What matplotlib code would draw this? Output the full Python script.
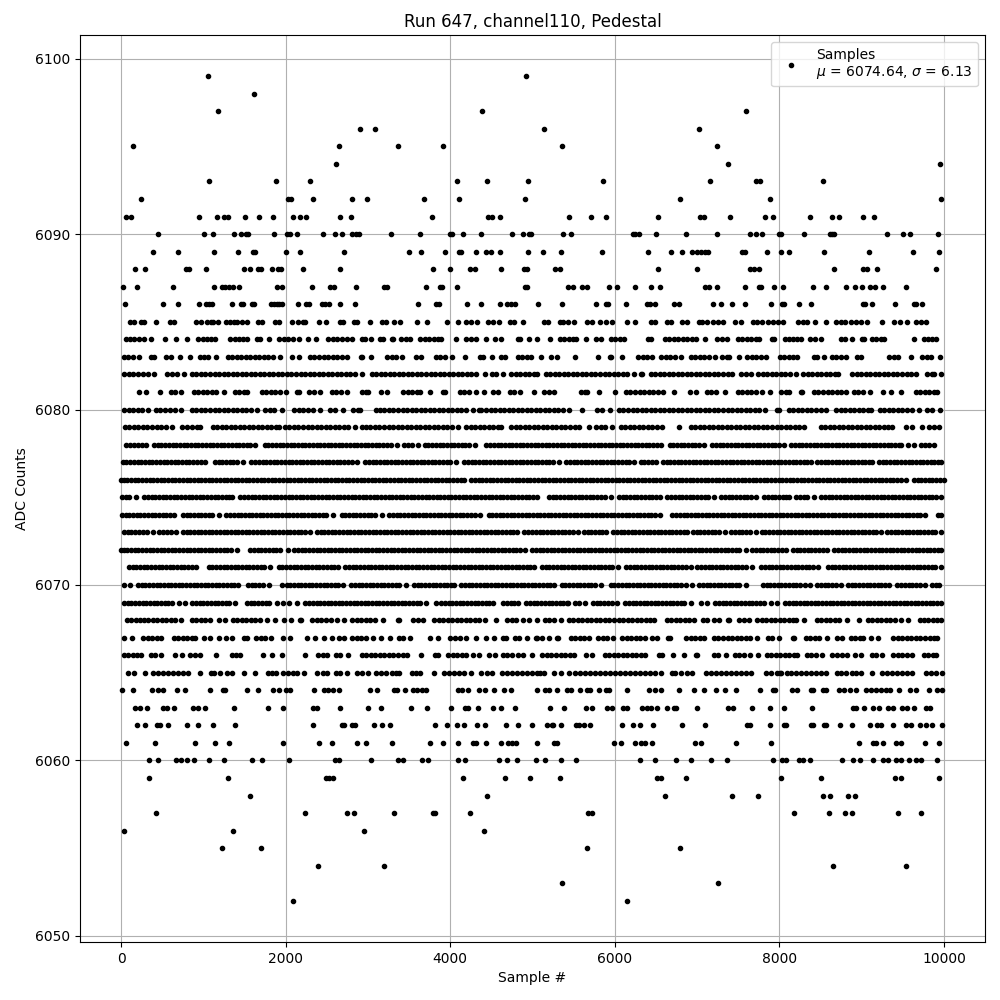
#!/usr/bin/env python3
import matplotlib
matplotlib.use('Agg')
import matplotlib.pyplot as plt
import numpy as np

# sample numbers, one list per ADC level
s6099 = [1054, 4921]
s6098 = [1612]
s6097 = [1176, 4387, 7600]
s6096 = [2897, 3090, 5145, 7029]
s6095 = [145, 2642, 3369, 3915, 5352, 7247]
s6094 = [2606, 7381, 9957]
s6093 = [1067, 1879, 2291, 4084, 4448, 4945, 5862, 7162, 7721, 7762, 8535]
s6092 = [242, 2024, 2064, 2327, 2800, 2994, 3684, 4109, 4909, 6798, 7891, 9969]
s6091 = [61, 121, 945, 1164, 1248, 1297, 1503, 1673, 1842, 2085, 2169, 2246, 2666, 2788, 3781, 4460, 4513, 4606,
         5449, 5716, 5887, 6530, 7033, 7081, 7405, 7831, 7928, 8377, 8645, 8730, 9021, 9155]
s6090 = [448, 1006, 1115, 1370, 1454, 1519, 1543, 1854, 2012, 2048, 2133, 2448, 2594, 2679, 2800, 2860, 2885, 3285,
         3636, 4000, 4024, 4157, 4375, 4751, 4884, 4957, 4977, 5376, 5473, 6227, 6251, 6292, 6506, 6859, 7247, 7648,
         7713, 7794, 8001, 8017, 8304, 8612, 8641, 8665, 9313, 9507, 9592, 9933]
s6089 = [388, 691, 1127, 1418, 1600, 1624, 2000, 2169, 2703, 3503, 3648, 3939, 4109, 4133, 4315, 4436, 4497, 4606,
         4945, 5133, 5340, 5850, 6409, 6688, 6822, 6932, 7004, 7053, 7101, 7134, 7551, 7580, 7855, 8025, 8122, 8547,
         9094, 9629, 9945]
s6088 = [170, 291, 788, 820, 1030, 1491, 1572, 1660, 1701, 1830, 1903, 1943, 2206, 2654, 3794, 4000, 4242, 4295,
         4618, 4897, 4937, 5279, 5328, 6530, 7004, 7640, 7689, 7750, 8669, 9021, 9070, 9191, 9908]
s6087 = [24, 194, 630, 1127, 1224, 1265, 1305, 1357, 1430, 1891, 1951, 2315, 2533, 2586, 2860, 3200, 3236, 3709,
         3878, 3903, 4084, 4909, 4937, 5437, 5486, 5607, 5656, 5935, 6032, 6251, 6445, 6543, 7101, 7150, 7247, 7588,
         7758, 7782, 7940, 8049, 8414, 8572, 8815, 8924, 9009, 9106, 9167, 9264, 9544]
s6086 = [48, 509, 691, 945, 1030, 1067, 1103, 1345, 1454, 1479, 1588, 1612, 1818, 1854, 1891, 1923, 1951, 2145,
         2242, 2279, 2436, 2472, 2521, 2654, 2848, 3612, 3830, 3866, 4206, 4375, 4606, 4690, 4739, 4787, 5066, 5364,
         5777, 5887, 5919, 6130, 6385, 6425, 6494, 6725, 6778, 7199, 7296, 7430, 7588, 7904, 8037, 8057, 8244, 8389,
         9021, 9046, 9131, 9410, 9637, 9661, 9738]
s6085 = [109, 158, 242, 279, 424, 594, 642, 909, 970, 1042, 1091, 1115, 1176, 1273, 1321, 1370, 1406, 1467, 1527,
         1660, 1709, 1866, 1915, 2073, 2145, 2206, 2238, 2400, 2485, 2666, 2691, 2836, 2872, 3026, 3175, 3216, 3321,
         3394, 3600, 3721, 3955, 4097, 4194, 4254, 4327, 4460, 4521, 4593, 4727, 4775, 4884, 5141, 5190, 5328, 5376,
         5433, 5498, 5660, 5717, 5814, 5887, 5960, 6142, 6251, 6445, 6494, 6640, 6688, 6822, 6883, 7017, 7065, 7126,
         7191, 7260, 7316, 7466, 7539, 7685, 7733, 7794, 7863, 7924, 7985, 8049, 8232, 8292, 8341, 8438, 8572, 8693,
         8754, 8803, 8876, 8936, 8997, 9070, 9252, 9398, 9471, 9556, 9665, 9726, 9787]
s6084 = [54, 105, 160, 215, 277, 364, 533, 665, 802, 931, 990, 1040, 1095, 1146, 1327, 1380, 1430, 1480, 1529, 1650,
         1691, 1802, 1921, 1975, 2030, 2085, 2156, 2276, 2370, 2511, 2570, 2625, 2680, 2740, 2802, 2923, 2964, 3034,
         3145, 3186, 3286, 3307, 3407, 3460, 3509, 3630, 3690, 3745, 3800, 3850, 3893, 4072, 4195, 4255, 4317, 4438,
         4539, 4620, 4821, 4842, 4953, 5059, 5210, 5333, 5385, 5440, 5490, 5524, 5644, 5775, 5828, 5949, 6005, 6060,
         6112, 6403, 6436, 6605, 6660, 6715, 6770, 6825, 6880, 6935, 6982, 7093, 7245, 7305, 7367, 7496, 7550, 7605,
         7660, 7710, 7752, 7913, 7934, 8063, 8115, 8170, 8220, 8258, 8371, 8430, 8501, 8743, 8800, 8886, 9007, 9028,
         9128, 9180, 9230, 9270, 9635, 9756, 9810, 9860, 9898]
s6083 = [34, 85, 140, 216, 357, 400, 540, 600, 721, 840, 955, 1010, 1053, 1157, 1295, 1350, 1405, 1460, 1515, 1570,
         1625, 1680, 1735, 1790, 1845, 1933, 2074, 2156, 2296, 2350, 2405, 2460, 2515, 2570, 2625, 2680, 2741, 2915,
         2923, 3034, 3226, 3290, 3345, 3408, 3589, 3650, 3832, 3880, 3933, 4024, 4185, 4365, 4398, 4509, 4619, 4660,
         4821, 4875, 4930, 4984, 5101, 5228, 5302, 5522, 5798, 5937, 5950, 6093, 6281, 6340, 6395, 6456, 6565, 6620,
         6675, 6730, 6808, 6921, 6975, 7030, 7085, 7140, 7213, 7306, 7360, 7387, 7507, 7609, 7665, 7720, 7775, 7833,
         8006, 8060, 8115, 8170, 8218, 8419, 8461, 8539, 8634, 8690, 8745, 8805, 8938, 8987, 9330, 9390, 9445, 9604,
         9736, 9790, 9838, 9957]
s6082 = [34, 90, 150, 210, 270, 330, 398, 559, 615, 675, 762, 862, 915, 970, 1025, 1080, 1135, 1190, 1245, 1300, 1355,
         1410, 1465, 1520, 1575, 1630, 1685, 1740, 1795, 1850, 1905, 1960, 2015, 2070, 2125, 2180, 2235, 2290, 2345,
         2400, 2455, 2510, 2565, 2620, 2675, 2730, 2785, 2840, 2923, 3044, 3100, 3155, 3210, 3265, 3320, 3375, 3430,
         3485, 3540, 3595, 3650, 3705, 3760, 3815, 3870, 3925, 3980, 4035, 4090, 4145, 4200, 4255, 4317, 4420, 4506,
         4560, 4640, 4741, 4795, 4850, 4905, 4960, 5015, 5059, 5159, 5215, 5270, 5325, 5380, 5435, 5490, 5545, 5600,
         5655, 5710, 5765, 5820, 5875, 5930, 5985, 6040, 6095, 6150, 6233, 6314, 6335, 6435, 6490, 6545, 6600, 6655,
         6710, 6765, 6820, 6875, 6930, 6985, 7040, 7095, 7150, 7205, 7260, 7315, 7370, 7428, 7537, 7595, 7651, 7739,
         7795, 7850, 7905, 7960, 8015, 8070, 8125, 8198, 8290, 8345, 8400, 8455, 8510, 8565, 8620, 8675, 8716, 8885,
         8940, 8995, 9050, 9105, 9160, 9215, 9270, 9325, 9380, 9435, 9490, 9545, 9600, 9656, 9797, 9850, 9878, 9969]
s6081 = [218, 307, 469, 600, 650, 730, 882, 935, 990, 1045, 1100, 1155, 1255, 1379, 1430, 1490, 1529, 1711, 1765, 1820,
         1875, 1930, 2006, 2135, 2156, 2284, 2340, 2418, 2559, 2615, 2670, 2750, 2923, 2975, 3004, 3155, 3236, 3428,
         3485, 3540, 3595, 3638, 3753, 3912, 3933, 4114, 4170, 4225, 4317, 4412, 4518, 4580, 4720, 4780, 4850, 5014,
         5139, 5200, 5261, 5584, 5640, 5666, 5802, 6000, 6131, 6190, 6245, 6300, 6355, 6410, 6470, 6525, 6586, 6717,
         6913, 6982, 7115, 7165, 7235, 7336, 7496, 7550, 7605, 7660, 7715, 7792, 7891, 8023, 8080, 8116, 8265, 8278,
         8419, 8475, 8530, 8585, 8640, 8695, 8750, 8805, 8906, 8960, 9015, 9097, 9264, 9361, 9475, 9655, 9710, 9765,
         9820, 9875, 9919]
s6080 = [34, 90, 140, 200, 257, 327, 418, 475, 530, 590, 649, 731, 862, 915, 970, 1025, 1080, 1135, 1190, 1245, 1300,
         1355, 1410, 1465, 1520, 1575, 1651, 1751, 1805, 1860, 1954, 2103, 2160, 2215, 2270, 2337, 2416, 2539, 2595,
         2701, 2822, 2880, 2903, 3092, 3145, 3200, 3255, 3310, 3365, 3420, 3475, 3530, 3585, 3640, 3695, 3750, 3805,
         3860, 3915, 3970, 4025, 4080, 4135, 4190, 4277, 4347, 4377, 4435, 4490, 4545, 4600, 4655, 4710, 4765, 4820,
         4875, 4930, 4985, 5040, 5095, 5150, 5205, 5260, 5315, 5370, 5443, 5603, 5787, 5850, 5938, 6050, 6105, 6160,
         6215, 6270, 6325, 6380, 6435, 6490, 6545, 6600, 6655, 6710, 6765, 6820, 6875, 6930, 6985, 7040, 7095, 7150,
         7205, 7260, 7315, 7370, 7425, 7480, 7535, 7590, 7645, 7700, 7752, 7823, 7966, 7995, 8116, 8170, 8225, 8280,
         8335, 8390, 8445, 8500, 8562, 8691, 8745, 8800, 8855, 8910, 8965, 9020, 9075, 9109, 9221, 9275, 9330, 9385,
         9440, 9495, 9550, 9615, 9694, 9797, 9850, 9949]
s6079 = [46, 100, 155, 210, 265, 320, 375, 430, 485, 540, 620, 741, 800, 860, 920, 964, 1113, 1165, 1220, 1275, 1330,
         1385, 1440, 1495, 1550, 1605, 1660, 1715, 1770, 1825, 1880, 1913, 1993, 2045, 2100, 2155, 2210, 2265, 2320,
         2375, 2430, 2485, 2540, 2595, 2650, 2705, 2760, 2842, 2923, 2975, 3030, 3085, 3140, 3195, 3250, 3305, 3360,
         3415, 3470, 3525, 3580, 3635, 3690, 3745, 3800, 3855, 3910, 3965, 4020, 4095, 4195, 4250, 4305, 4360, 4415,
         4470, 4525, 4580, 4620, 4741, 4795, 4850, 4905, 4960, 5015, 5070, 5125, 5180, 5235, 5290, 5345, 5400, 5455,
         5510, 5565, 5684, 5775, 5830, 5885, 5962, 6070, 6125, 6180, 6235, 6290, 6345, 6400, 6455, 6510, 6578, 6779,
         6921, 6975, 7030, 7085, 7140, 7195, 7250, 7305, 7360, 7415, 7470, 7525, 7580, 7635, 7690, 7745, 7800, 7855,
         7910, 7965, 8020, 8075, 8130, 8185, 8240, 8299, 8500, 8555, 8610, 8665, 8720, 8775, 8830, 8885, 8940, 8995,
         9050, 9105, 9160, 9215, 9270, 9325, 9372, 9533, 9615, 9738, 9817, 9875, 9939]
s6078 = [62, 110, 155, 205, 250, 297, 398, 445, 490, 535, 580, 625, 670, 715, 760, 805, 850, 895, 940, 985, 1030, 1075,
         1120, 1165, 1210, 1255, 1300, 1345, 1390, 1435, 1480, 1525, 1570, 1630, 1743, 1790, 1835, 1880, 1925, 1970,
         2015, 2060, 2105, 2150, 2195, 2240, 2285, 2330, 2375, 2420, 2465, 2510, 2555, 2600, 2645, 2690, 2735, 2780,
         2825, 2870, 2915, 2960, 3005, 3050, 3095, 3140, 3185, 3230, 3275, 3347, 3440, 3490, 3540, 3610, 3690, 3735,
         3780, 3825, 3870, 3915, 3960, 4005, 4050, 4095, 4140, 4185, 4230, 4297, 4438, 4485, 4530, 4575, 4620, 4665,
         4710, 4755, 4800, 4845, 4890, 4935, 4980, 5025, 5070, 5115, 5160, 5205, 5250, 5295, 5340, 5385, 5430, 5475,
         5520, 5565, 5610, 5655, 5700, 5745, 5790, 5835, 5880, 5925, 5970, 6015, 6060, 6105, 6150, 6195, 6240, 6285,
         6330, 6375, 6420, 6465, 6510, 6557, 6666, 6710, 6755, 6800, 6845, 6890, 6935, 6980, 7025, 7084, 7184, 7230,
         7275, 7320, 7365, 7410, 7455, 7500, 7545, 7590, 7635, 7680, 7725, 7770, 7815, 7860, 7905, 7950, 7995, 8056,
         8145, 8190, 8235, 8280, 8325, 8370, 8415, 8460, 8505, 8550, 8595, 8640, 8685, 8730, 8775, 8820, 8865, 8910,
         8955, 9000, 9045, 9090, 9135, 9180, 9225, 9270, 9315, 9360, 9405, 9450, 9473, 9562, 9635, 9724, 9770, 9820,
         9878]
s6077 = [22, 65, 110, 155, 200, 245, 290, 335, 380, 425, 470, 515, 560, 605, 650, 695, 740, 785, 830, 875, 920, 965,
         1024, 1137, 1185, 1230, 1275, 1320, 1365, 1410, 1477, 1581, 1630, 1675, 1720, 1765, 1810, 1855, 1900, 1945,
         1990, 2035, 2080, 2125, 2170, 2215, 2260, 2305, 2350, 2395, 2440, 2485, 2530, 2575, 2620, 2665, 2710, 2755,
         2800, 2863, 2963, 3010, 3055, 3100, 3145, 3190, 3235, 3280, 3325, 3370, 3415, 3460, 3505, 3550, 3595, 3640,
         3685, 3730, 3775, 3820, 3865, 3910, 3955, 4000, 4075, 4167, 4215, 4260, 4305, 4350, 4395, 4440, 4485, 4530,
         4575, 4620, 4665, 4710, 4755, 4800, 4845, 4890, 4935, 4980, 5025, 5070, 5115, 5160, 5205, 5250, 5322, 5410,
         5455, 5500, 5545, 5590, 5635, 5680, 5725, 5770, 5815, 5860, 5905, 5950, 5995, 6040, 6085, 6130, 6175, 6233,
         6314, 6360, 6405, 6450, 6497, 6585, 6630, 6675, 6720, 6765, 6810, 6855, 6900, 6945, 6990, 7035, 7080, 7125,
         7170, 7215, 7260, 7305, 7350, 7395, 7440, 7485, 7530, 7575, 7620, 7665, 7710, 7755, 7800, 7845, 7890, 7935,
         7980, 8025, 8070, 8115, 8160, 8205, 8250, 8295, 8340, 8380, 8460, 8505, 8550, 8595, 8640, 8685, 8730, 8775,
         8820, 8865, 8910, 8955, 9000, 9045, 9090, 9121, 9209, 9255, 9300, 9345, 9390, 9435, 9480, 9525, 9570, 9615,
         9660, 9705, 9750, 9795, 9840, 9885, 9930, 9970]
s6076 = [0, 30, 75, 120, 165, 210, 255, 300, 345, 390, 435, 480, 525, 570, 615, 660, 705, 750, 795, 840, 885, 930, 975,
         1020, 1065, 1110, 1155, 1200, 1245, 1290, 1335, 1380, 1425, 1470, 1515, 1560, 1605, 1650, 1695, 1740, 1785,
         1830, 1875, 1920, 1965, 2010, 2055, 2100, 2145, 2190, 2235, 2280, 2325, 2370, 2415, 2460, 2505, 2550, 2595,
         2640, 2685, 2730, 2775, 2820, 2865, 2910, 2955, 3000, 3045, 3090, 3135, 3180, 3225, 3270, 3315, 3360, 3405,
         3450, 3495, 3540, 3585, 3630, 3675, 3720, 3765, 3810, 3855, 3900, 3945, 3990, 4035, 4080, 4125, 4167, 4256,
         4300, 4345, 4390, 4435, 4480, 4525, 4570, 4615, 4660, 4705, 4750, 4795, 4840, 4885, 4930, 4975, 5020, 5065,
         5110, 5155, 5200, 5245, 5290, 5335, 5380, 5425, 5470, 5515, 5560, 5605, 5650, 5695, 5740, 5785, 5830, 5875,
         5920, 5965, 6010, 6055, 6100, 6145, 6190, 6235, 6280, 6325, 6370, 6415, 6460, 6505, 6550, 6595, 6640, 6685,
         6730, 6775, 6820, 6865, 6910, 6955, 7000, 7045, 7090, 7135, 7180, 7225, 7270, 7315, 7360, 7405, 7450, 7495,
         7540, 7585, 7630, 7675, 7720, 7765, 7810, 7855, 7900, 7945, 7990, 8035, 8080, 8125, 8170, 8215, 8260, 8305,
         8350, 8395, 8440, 8485, 8530, 8575, 8620, 8665, 8710, 8755, 8800, 8845, 8890, 8935, 8980, 9025, 9070, 9115,
         9160, 9205, 9250, 9295, 9340, 9385, 9430, 9475, 9534, 9635, 9680, 9725, 9770, 9815, 9860, 9905, 9950, 9999]
s6075 = [8, 55, 100, 176, 276, 325, 370, 415, 460, 505, 550, 595, 640, 685, 730, 775, 820, 865, 910, 955, 1000, 1045,
         1090, 1135, 1180, 1225, 1270, 1315, 1348, 1448, 1495, 1540, 1585, 1630, 1675, 1720, 1765, 1810, 1855, 1900,
         1945, 1990, 2035, 2080, 2125, 2170, 2215, 2260, 2305, 2350, 2395, 2440, 2485, 2530, 2575, 2620, 2665, 2710,
         2755, 2800, 2845, 2890, 2935, 2980, 3025, 3070, 3115, 3160, 3205, 3250, 3295, 3340, 3385, 3430, 3475, 3520,
         3565, 3610, 3655, 3700, 3745, 3790, 3835, 3880, 3925, 3970, 4015, 4060, 4105, 4150, 4195, 4240, 4285, 4330,
         4375, 4420, 4465, 4510, 4555, 4600, 4645, 4690, 4735, 4780, 4825, 4870, 4915, 4960, 5005, 5059, 5200, 5245,
         5290, 5335, 5380, 5425, 5470, 5515, 5560, 5605, 5650, 5695, 5740, 5785, 5830, 5875, 5950, 6050, 6095, 6140,
         6185, 6230, 6275, 6320, 6365, 6410, 6455, 6500, 6545, 6638, 6685, 6730, 6775, 6820, 6865, 6910, 6955, 7000,
         7045, 7090, 7135, 7205, 7294, 7340, 7385, 7430, 7475, 7520, 7565, 7610, 7655, 7711, 7812, 7860, 7905, 7950,
         7995, 8040, 8085, 8116, 8205, 8250, 8295, 8340, 8420, 8509, 8555, 8600, 8645, 8690, 8735, 8780, 8825, 8870,
         8915, 8960, 9005, 9050, 9095, 9140, 9185, 9230, 9275, 9320, 9365, 9410, 9455, 9500, 9545, 9590, 9635, 9680,
         9725, 9770, 9815, 9860, 9905, 9959]
s6074 = [8, 55, 100, 145, 190, 235, 280, 325, 370, 415, 460, 505, 550, 595, 641, 749, 795, 840, 885, 930, 975, 1020,
         1065, 1110, 1186, 1278, 1325, 1370, 1415, 1460, 1505, 1550, 1595, 1640, 1685, 1730, 1775, 1820, 1865, 1910,
         1955, 2000, 2045, 2090, 2135, 2180, 2225, 2270, 2315, 2360, 2405, 2450, 2495, 2580, 2680, 2725, 2770, 2815,
         2860, 2905, 2950, 2995, 3040, 3085, 3166, 3258, 3305, 3350, 3395, 3440, 3485, 3530, 3575, 3620, 3665, 3710,
         3755, 3800, 3845, 3890, 3935, 3980, 4025, 4070, 4115, 4160, 4205, 4250, 4295, 4366, 4466, 4510, 4555, 4600,
         4645, 4690, 4735, 4780, 4825, 4870, 4915, 4960, 5005, 5050, 5095, 5140, 5185, 5230, 5275, 5320, 5365, 5410,
         5455, 5500, 5545, 5590, 5635, 5680, 5725, 5770, 5815, 5860, 5905, 5950, 5995, 6040, 6085, 6130, 6175, 6220,
         6265, 6310, 6355, 6400, 6445, 6490, 6545, 6698, 6745, 6790, 6835, 6880, 6925, 6970, 7015, 7060, 7105, 7150,
         7195, 7240, 7285, 7330, 7375, 7420, 7465, 7510, 7555, 7600, 7645, 7690, 7735, 7780, 7825, 7870, 7915, 7960,
         8005, 8050, 8095, 8140, 8185, 8230, 8275, 8320, 8365, 8410, 8455, 8500, 8545, 8590, 8635, 8680, 8725, 8770,
         8815, 8860, 8905, 8950, 8995, 9040, 9085, 9130, 9175, 9220, 9265, 9310, 9355, 9400, 9445, 9490, 9535, 9580,
         9625, 9670, 9715, 9769, 9926, 9960]
s6073 = [34, 80, 125, 170, 215, 260, 310, 390, 466, 510, 555, 600, 669, 749, 795, 840, 885, 930, 975, 1020, 1065, 1110,
         1155, 1200, 1245, 1290, 1335, 1380, 1425, 1470, 1515, 1560, 1605, 1650, 1695, 1740, 1785, 1830, 1875, 1920,
         1965, 2010, 2055, 2100, 2145, 2190, 2235, 2297, 2377, 2425, 2470, 2515, 2560, 2605, 2650, 2695, 2740, 2785,
         2830, 2875, 2920, 2965, 3010, 3055, 3100, 3145, 3190, 3235, 3280, 3325, 3370, 3415, 3460, 3505, 3550, 3595,
         3640, 3685, 3730, 3775, 3820, 3865, 3910, 3955, 4000, 4045, 4090, 4135, 4180, 4225, 4270, 4315, 4360, 4405,
         4450, 4495, 4540, 4585, 4630, 4675, 4720, 4765, 4810, 4902, 4950, 4995, 5040, 5085, 5130, 5175, 5220, 5265,
         5310, 5355, 5400, 5445, 5490, 5557, 5625, 5670, 5715, 5760, 5805, 5850, 5897, 5977, 6025, 6070, 6115, 6160,
         6205, 6250, 6295, 6340, 6385, 6430, 6475, 6520, 6565, 6610, 6655, 6700, 6745, 6790, 6835, 6881, 6949, 6995,
         7040, 7085, 7130, 7175, 7220, 7265, 7335, 7415, 7460, 7505, 7550, 7595, 7640, 7711, 7784, 7830, 7875, 7920,
         7965, 8010, 8055, 8100, 8145, 8190, 8235, 8280, 8325, 8370, 8415, 8460, 8505, 8550, 8595, 8640, 8685, 8730,
         8775, 8820, 8865, 8910, 8955, 9000, 9045, 9090, 9135, 9180, 9230, 9310, 9355, 9400, 9445, 9490, 9535, 9580,
         9625, 9670, 9715, 9760, 9805, 9850, 9895, 9959]
s6072 = [0, 30, 75, 120, 165, 210, 255, 300, 345, 390, 435, 480, 525, 570, 615, 660, 705, 750, 795, 840, 885, 930, 975,
         1020, 1065, 1110, 1155, 1200, 1245, 1290, 1335, 1408, 1569, 1615, 1660, 1705, 1750, 1795, 1840, 1885, 1930,
         2022, 2103, 2150, 2195, 2240, 2285, 2330, 2375, 2420, 2465, 2510, 2555, 2600, 2645, 2690, 2735, 2780, 2825,
         2870, 2915, 2960, 3005, 3050, 3095, 3140, 3185, 3230, 3275, 3320, 3365, 3410, 3455, 3500, 3545, 3590, 3635,
         3680, 3725, 3770, 3815, 3860, 3905, 3950, 3995, 4040, 4085, 4130, 4175, 4220, 4265, 4310, 4355, 4400, 4445,
         4490, 4535, 4580, 4625, 4670, 4715, 4760, 4805, 4850, 4911, 4995, 5040, 5085, 5130, 5175, 5220, 5265, 5310,
         5355, 5400, 5445, 5490, 5535, 5580, 5625, 5670, 5715, 5760, 5805, 5850, 5895, 5940, 5985, 6030, 6075, 6120,
         6165, 6210, 6255, 6300, 6345, 6390, 6435, 6480, 6525, 6570, 6615, 6660, 6705, 6750, 6795, 6840, 6885, 6930,
         6975, 7020, 7065, 7110, 7155, 7200, 7245, 7290, 7335, 7380, 7425, 7470, 7515, 7590, 7670, 7715, 7760, 7805,
         7850, 7895, 7940, 7985, 8030, 8084, 8164, 8210, 8255, 8300, 8345, 8390, 8435, 8480, 8525, 8582, 8662, 8710,
         8755, 8800, 8845, 8890, 8935, 8980, 9025, 9070, 9115, 9160, 9205, 9250, 9295, 9340, 9385, 9430, 9475, 9520,
         9565, 9610, 9655, 9700, 9745, 9790, 9835, 9880, 9925, 9970]
s6071 = [95, 140, 185, 230, 275, 320, 365, 410, 455, 500, 545, 590, 635, 680, 725, 770, 815, 860, 915, 1064, 1110, 1155,
         1200, 1245, 1290, 1335, 1380, 1425, 1470, 1515, 1560, 1605, 1650, 1695, 1740, 1812, 1913, 1960, 2005, 2050,
         2095, 2140, 2185, 2230, 2275, 2320, 2365, 2410, 2455, 2500, 2545, 2590, 2640, 2721, 2770, 2815, 2860, 2905,
         2950, 2995, 3040, 3085, 3130, 3175, 3220, 3265, 3310, 3355, 3400, 3445, 3490, 3535, 3580, 3625, 3670, 3715,
         3760, 3805, 3850, 3895, 3940, 3985, 4030, 4075, 4120, 4165, 4210, 4255, 4300, 4345, 4390, 4435, 4480, 4525,
         4570, 4615, 4660, 4705, 4750, 4795, 4840, 4885, 4930, 4975, 5018, 5111, 5160, 5205, 5250, 5295, 5340, 5385,
         5430, 5475, 5520, 5565, 5610, 5655, 5700, 5745, 5790, 5835, 5880, 5925, 5970, 6043, 6139, 6185, 6230, 6275,
         6320, 6365, 6410, 6455, 6500, 6545, 6590, 6635, 6680, 6725, 6770, 6815, 6860, 6922, 7002, 7050, 7095, 7140,
         7185, 7230, 7275, 7320, 7365, 7410, 7455, 7500, 7545, 7590, 7671, 7780, 7825, 7870, 7915, 7960, 8005, 8050,
         8095, 8140, 8185, 8230, 8275, 8320, 8365, 8410, 8473, 8590, 8635, 8680, 8725, 8770, 8815, 8860, 8905, 8950,
         8995, 9040, 9085, 9130, 9175, 9220, 9265, 9310, 9355, 9400, 9445, 9490, 9535, 9580, 9625, 9670, 9715, 9760,
         9805, 9850, 9895, 9970]
s6070 = [34, 107, 204, 250, 295, 340, 385, 430, 475, 520, 565, 610, 655, 700, 745, 790, 835, 880, 925, 970, 1015, 1060,
         1105, 1150, 1195, 1240, 1285, 1330, 1375, 1416, 1537, 1585, 1630, 1675, 1720, 1792, 1961, 2010, 2055, 2100,
         2145, 2190, 2235, 2280, 2325, 2370, 2415, 2460, 2505, 2550, 2595, 2640, 2701, 2793, 2840, 2885, 2930, 2975,
         3020, 3065, 3110, 3155, 3200, 3245, 3290, 3335, 3380, 3468, 3557, 3605, 3650, 3695, 3740, 3785, 3830, 3875,
         3920, 3965, 4010, 4046, 4135, 4180, 4225, 4270, 4315, 4360, 4405, 4450, 4495, 4540, 4585, 4630, 4675, 4720,
         4765, 4810, 4855, 4900, 4945, 4990, 5035, 5080, 5125, 5170, 5215, 5261, 5354, 5400, 5445, 5490, 5535, 5580,
         5625, 5670, 5715, 5760, 5828, 5949, 5995, 6040, 6085, 6130, 6175, 6220, 6265, 6310, 6355, 6400, 6445, 6490,
         6535, 6580, 6625, 6670, 6715, 6760, 6805, 6861, 6932, 7022, 7070, 7115, 7160, 7205, 7250, 7295, 7340, 7385,
         7430, 7475, 7509, 7600, 7800, 7845, 7890, 7935, 7980, 8025, 8070, 8115, 8160, 8205, 8250, 8307, 8377, 8460,
         8505, 8550, 8595, 8640, 8685, 8744, 8833, 8880, 8925, 8970, 9015, 9060, 9105, 9150, 9195, 9240, 9285, 9331,
         9432, 9480, 9525, 9570, 9615, 9660, 9705, 9769, 9857, 9900, 9939]
s6069 = [34, 80, 125, 170, 215, 260, 305, 350, 395, 440, 485, 530, 575, 620, 701, 774, 862, 910, 955, 1000, 1045, 1090,
         1135, 1180, 1225, 1270, 1315, 1380, 1529, 1575, 1620, 1665, 1710, 1755, 1800, 1893, 1963, 2044, 2137, 2236,
         2285, 2330, 2375, 2420, 2465, 2510, 2555, 2600, 2645, 2690, 2735, 2780, 2825, 2870, 2915, 2960, 3005, 3050,
         3095, 3140, 3185, 3230, 3275, 3320, 3365, 3410, 3455, 3500, 3545, 3590, 3635, 3711, 3832, 3892, 3935, 3980,
         4025, 4070, 4115, 4160, 4205, 4250, 4295, 4340, 4385, 4430, 4475, 4519, 4640, 4690, 4735, 4780, 4822, 4922,
         4970, 5015, 5060, 5105, 5150, 5195, 5240, 5285, 5330, 5375, 5420, 5435, 5516, 5565, 5638, 5734, 5780, 5825,
         5870, 5915, 5960, 6031, 6123, 6170, 6215, 6260, 6305, 6350, 6395, 6440, 6485, 6530, 6575, 6620, 6665, 6710,
         6755, 6800, 6845, 6922, 7042, 7124, 7217, 7265, 7310, 7355, 7400, 7445, 7490, 7535, 7580, 7625, 7670, 7715,
         7760, 7813, 7901, 7975, 8067, 8115, 8160, 8205, 8250, 8295, 8340, 8385, 8430, 8475, 8520, 8565, 8610, 8655,
         8700, 8745, 8790, 8835, 8880, 8925, 8970, 9015, 9060, 9105, 9150, 9195, 9240, 9285, 9330, 9375, 9420, 9465,
         9510, 9555, 9600, 9645, 9690, 9735, 9780, 9825, 9870, 9915, 9970]
s6068 = [74, 125, 175, 225, 280, 330, 385, 440, 495, 545, 600, 650, 730, 862, 915, 970, 1025, 1080, 1186, 1265, 1355,
         1410, 1465, 1520, 1575, 1630, 1685, 1772, 1871, 1981, 2063, 2175, 2184, 2325, 2380, 2435, 2490, 2545, 2620,
         2703, 2810, 2865, 2920, 2975, 3030, 3085, 3186, 3359, 3380, 3549, 3610, 3671, 3803, 3860, 3915, 3970, 4025,
         4080, 4135, 4190, 4245, 4300, 4355, 4418, 4557, 4688, 4745, 4800, 4883, 4961, 5054, 5147, 5200, 5255, 5342,
         5443, 5495, 5550, 5605, 5660, 5715, 5770, 5825, 5880, 5935, 5990, 6045, 6100, 6155, 6210, 6265, 6320, 6375,
         6430, 6476, 6629, 6685, 6740, 6795, 6850, 6905, 6962, 7071, 7125, 7205, 7264, 7375, 7387, 7508, 7565, 7630,
         7731, 7785, 7840, 7895, 7950, 8005, 8060, 8115, 8170, 8206, 8300, 8452, 8510, 8565, 8620, 8675, 8730, 8825,
         8966, 9076, 9130, 9185, 9240, 9295, 9350, 9405, 9473, 9564, 9703, 9755, 9810, 9865, 9920, 9970]
s6067 = [36, 133, 268, 325, 380, 435, 487, 640, 695, 750, 805, 860, 903, 1004, 1085, 1188, 1274, 1348, 1488, 1529, 1642,
         1695, 1750, 1824, 1965, 2055, 2256, 2358, 2460, 2559, 2642, 2703, 2810, 2865, 2920, 2975, 3065, 3153, 3267,
         3379, 3430, 3509, 3751, 3854, 4001, 4060, 4115, 4196, 4307, 4440, 4529, 4640, 4681, 4791, 4832, 4933, 5042,
         5058, 5115, 5201, 5301, 5310, 5463, 5520, 5575, 5630, 5687, 5799, 5855, 5910, 5978, 6091, 6145, 6200, 6255,
         6310, 6367, 6454, 6518, 6646, 6667, 6868, 6925, 6980, 7035, 7084, 7204, 7260, 7315, 7370, 7425, 7480, 7535,
         7590, 7645, 7732, 7861, 7906, 7997, 8168, 8177, 8318, 8375, 8430, 8485, 8582, 8703, 8765, 8865, 8920, 8975,
         9016, 9119, 9200, 9383, 9440, 9495, 9550, 9605, 9660, 9715, 9770, 9825, 9880, 9919]
s6066 = [30, 85, 140, 188, 246, 357, 415, 479, 660, 742, 842, 900, 964, 1151, 1347, 1400, 1449, 1721, 1832, 1951, 2230,
         2397, 2450, 2499, 2610, 2661, 2763, 2923, 2980, 3035, 3090, 3145, 3200, 3255, 3310, 3365, 3420, 3469, 3650,
         3811, 3852, 3973, 4030, 4085, 4140, 4195, 4277, 4355, 4466, 4539, 4640, 4695, 4750, 4822, 4884, 4991, 5119,
         5175, 5230, 5285, 5340, 5395, 5450, 5504, 5645, 5727, 5876, 5930, 5985, 6040, 6095, 6150, 6205, 6260, 6315,
         6367, 6536, 6578, 6710, 6841, 6990, 7003, 7204, 7260, 7347, 7456, 7510, 7565, 7639, 7742, 7844, 7900, 7955,
         8010, 8065, 8120, 8175, 8218, 8330, 8385, 8440, 8513, 8642, 8700, 8755, 8825, 8916, 8989, 9128, 9180, 9250,
         9383, 9440, 9495, 9550, 9615, 9756, 9810, 9865, 9907]
s6065 = [85, 158, 291, 388, 448, 509, 570, 630, 691, 751, 812, 957, 1091, 1127, 1200, 1285, 1345, 1491, 1624, 1782,
         1834, 1883, 1972, 2024, 2085, 2133, 2218, 2376, 2448, 2497, 2606, 2654, 2739, 2872, 2933, 3006, 3103, 3163,
         3224, 3297, 3345, 3381, 3539, 3588, 3636, 3806, 3927, 3987, 4048, 4109, 4169, 4254, 4375, 4448, 4509, 4630,
         4690, 4751, 4812, 4872, 4933, 4993, 5054, 5089, 5137, 5255, 5340, 5449, 5514, 5575, 5636, 5696, 5757, 5818,
         5878, 5939, 6000, 6061, 6122, 6182, 6243, 6304, 6365, 6425, 6486, 6567, 6697, 6737, 6810, 6883, 6932, 7114,
         7174, 7235, 7296, 7357, 7417, 7478, 7539, 7600, 7652, 7843, 7904, 7965, 8005, 8025, 8098, 8146, 8207, 8268,
         8329, 8389, 8450, 8511, 8572, 8705, 8754, 8815, 8884, 8936, 8997, 9131, 9248, 9309, 9370, 9430, 9491, 9552,
         9613, 9787, 9848, 9908, 9981]
s6064 = [12, 145, 376, 448, 509, 679, 772, 1079, 1236, 1265, 1527, 1660, 1842, 1923, 2004, 2052, 2339, 2460, 2509, 2570,
         2650, 3030, 3115, 3321, 3357, 3450, 3551, 3600, 3660, 3709, 4097, 4145, 4218, 4351, 4424, 4533, 4654, 4739,
         5054, 5157, 5206, 5292, 5413, 5473, 5571, 5656, 5704, 5802, 5887, 5935, 6142, 6421, 6486, 6567, 6782, 6968,
         7085, 7235, 7345, 7478, 7770, 7928, 7952, 8159, 8219, 8389, 8414, 8535, 8572, 8730, 8786, 8863, 8936, 9058,
         9118, 9179, 9240, 9300, 9349, 9458, 9592, 9665, 9823, 9921, 9981]
s6063 = [170, 230, 319, 509, 558, 642, 873, 933, 1018, 1370, 1782, 1963, 2327, 2376, 2654, 3006, 3163, 3527, 3717, 4012,
         4185, 4218, 4339, 4521, 4618, 4787, 5210, 5388, 5644, 5717, 5899, 5960, 6105, 6154, 6336, 6385, 6441, 6514,
         6640, 6721, 6749, 7004, 7381, 7438, 7673, 7887, 8061, 8401, 8896, 8936, 9033, 9143, 9216, 9325, 9377, 9495,
         9556, 9641, 9787, 9835]
s6062 = [194, 291, 436, 469, 570, 800, 933, 1115, 1382, 2327, 2679, 2703, 2800, 2848, 3078, 3175, 3272, 3818, 3963,
         4084, 4169, 4327, 4424, 4678, 4824, 4990, 5170, 5231, 5251, 5340, 5534, 5559, 5631, 5704, 6093, 6227, 6312,
         6470, 6822, 7102, 7612, 7648, 7891, 8061, 8086, 8389, 8414, 8547, 8572, 8734, 8888, 9106, 9191, 9240, 9386,
         9544, 9605, 9713, 9787, 9860, 9981]
s6061 = [61, 412, 897, 1139, 1309, 1963, 2400, 2557, 2872, 2982, 3297, 3757, 3915, 4097, 4278, 4315, 4436, 4618, 4703,
         4751, 4800, 5054, 5255, 5292, 5996, 6081, 6251, 6324, 6365, 6454, 6980, 7053, 7478, 7904, 8973, 9143, 9179,
         9264, 9422, 9483, 9775, 9945]
s6060 = [339, 448, 667, 731, 800, 885, 1067, 1248, 1588, 1709, 2036, 2594, 2642, 3038, 3369, 3430, 3660, 3733, 4097,
         4185, 4593, 4690, 4812, 5042, 5146, 5340, 5534, 6312, 6494, 6745, 6920, 7174, 7369, 7928, 8037, 8086, 8235,
         8292, 8369, 8766, 8900, 8985, 9143, 9264, 9325, 9422, 9483, 9580, 9665, 9718, 9916]
s6059 = [339, 1297, 2485, 2521, 2578, 4157, 4666, 4969, 5328, 6518, 6567, 6871, 8025, 8511, 9410, 9483, 9945]
s6058 = [1563, 4448, 6604, 7430, 7746, 8535, 8620, 8831, 8916]
s6057 = [424, 2230, 2751, 2836, 3321, 3790, 3814, 4242, 5668, 5725, 8183, 8608, 8803, 8888, 9445, 9726]
s6056 = [36, 1357, 2957, 4412]
s6055 = [1224, 1697, 5656, 6798]
s6054 = [2388, 3200, 8657, 9544]
s6053 = [5352, 7260]
s6052 = [2085, 6142]

levels = [6099, 6098, 6097, 6096, 6095, 6094, 6093, 6092, 6091, 6090, 6089, 6088, 6087, 6086, 6085, 6084, 6083,
          6082, 6081, 6080, 6079, 6078, 6077, 6076, 6075, 6074, 6073, 6072, 6071, 6070, 6069, 6068, 6067, 6066,
          6065, 6064, 6063, 6062, 6061, 6060, 6059, 6058, 6057, 6056, 6055, 6054, 6053, 6052]
rows = [s6099, s6098, s6097, s6096, s6095, s6094, s6093, s6092, s6091, s6090, s6089, s6088, s6087, s6086, s6085,
        s6084, s6083, s6082, s6081, s6080, s6079, s6078, s6077, s6076, s6075, s6074, s6073, s6072, s6071, s6070,
        s6069, s6068, s6067, s6066, s6065, s6064, s6063, s6062, s6061, s6060, s6059, s6058, s6057, s6056, s6055,
        s6054, s6053, s6052]

run = 647
channel = 110
mean = 6074.64
sigma = 6.13

x = np.concatenate(rows)
y = np.repeat(levels, [len(r) for r in rows])

plt.figure(figsize=(10, 10))
plt.plot(x, y, 'k.', label='Samples\n$\\mu$ = %.2f, $\\sigma$ = %.2f' % (mean, sigma))
plt.title('Run %d, channel%d, Pedestal' % (run, channel))
plt.xlabel('Sample #')
plt.ylabel('ADC Counts')
plt.legend(loc='upper right')
plt.grid(True)
plt.subplots_adjust(left=0.08, right=0.985, bottom=0.058, top=0.965)
plt.savefig('out.png', dpi=100)
